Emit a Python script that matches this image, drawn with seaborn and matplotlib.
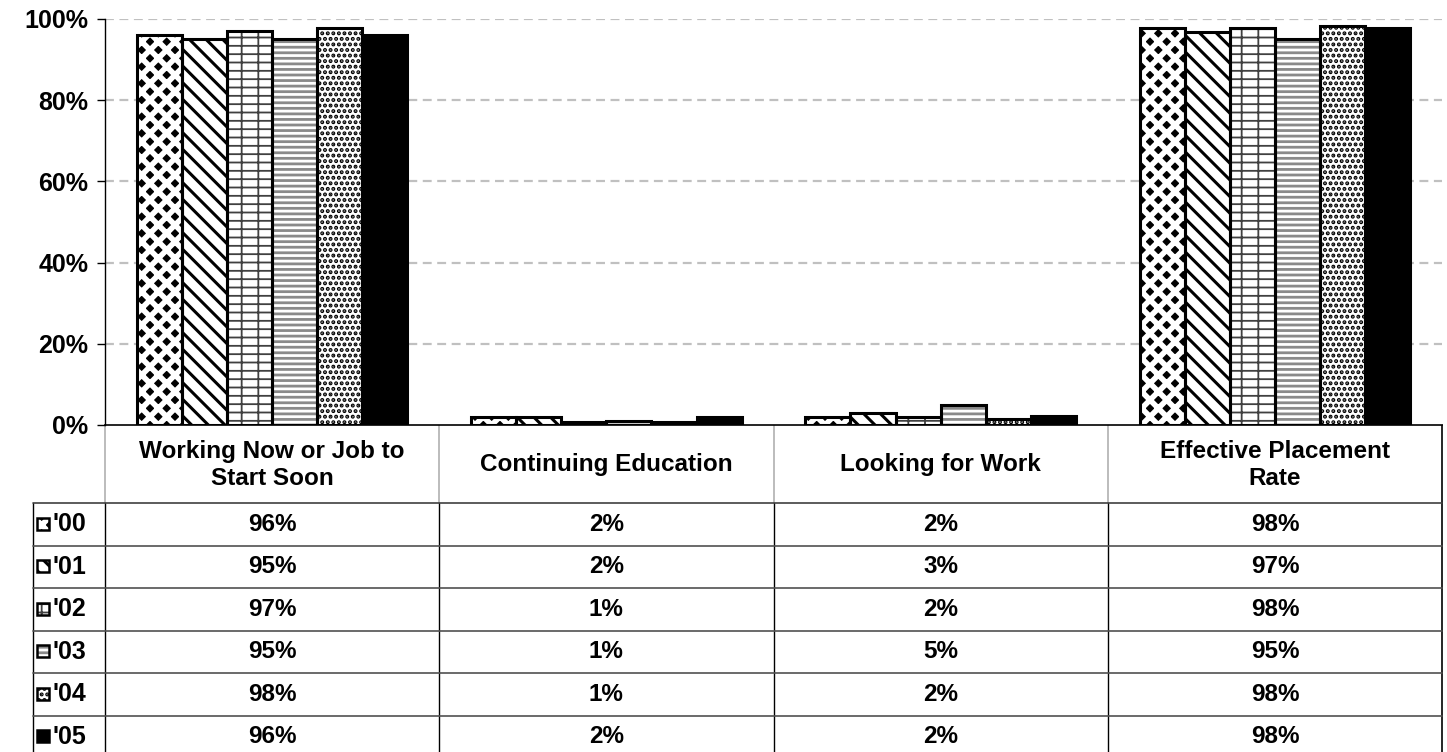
import matplotlib
matplotlib.use("Agg")
import matplotlib.pyplot as plt
from matplotlib.patches import Rectangle
import pandas as pd
import seaborn as sns

categories = ["Working Now or Job to\nStart Soon", "Continuing Education",
              "Looking for Work", "Effective Placement\nRate"]
years = ["'00", "'01", "'02", "'03", "'04", "'05"]
working = [96.0, 95.0, 97.0, 95.0, 97.8, 96.0]
continuing = [2.0, 2.0, 0.8, 1.0, 0.7, 2.0]
looking = [2.0, 3.0, 1.9, 5.0, 1.5, 2.3]
effective = [97.9, 96.9, 97.8, 95.0, 98.3, 97.8]

# face, hatch, hatch colour, hatch width for each year
styles = [
    ("black", "xx", "white", 4.0),
    ("white", "\\\\", "black", 2.2),
    ("white", "+-", "#404040", 1.3),
    ("white", "---", "#8a8a8a", 2.0),
    ("white", "...", "black", 2.0),
    ("black", "", "black", 1.0),
]

rows = []
for cat, vals in zip(categories, [working, continuing, looking, effective]):
    for yr, v in zip(years, vals):
        rows.append({"category": cat, "year": yr, "value": v})
df = pd.DataFrame(rows)

sns.set_style("white")
plt.rcParams["font.family"] = ["Liberation Sans", "DejaVu Sans"]
plt.rcParams["font.weight"] = "bold"
plt.rcParams["text.color"] = "black"
plt.rcParams["ytick.color"] = "black"
plt.rcParams["ytick.labelcolor"] = "black"

W, H = 1447, 752
left, right, base, top = 105, 1442, 425, 19

fig = plt.figure(figsize=(W / 100, H / 100), dpi=100)
ax = fig.add_axes([left / W, 1 - base / H, (right - left) / W, (base - top) / H])

sns.barplot(data=df, x="category", y="value", hue="year", order=categories,
            hue_order=years, palette=["white"] * 6, saturation=1, width=0.81,
            linewidth=0, legend=False, ax=ax)


def style_patch(p, st):
    face, hatch, hcol, hlw = st
    p.set_facecolor(face)
    p.set_hatch(hatch)
    p.set_edgecolor(hcol)
    p.set_linewidth(0)
    if hasattr(p, "set_hatch_linewidth"):
        p.set_hatch_linewidth(hlw)
    else:
        p._hatch_linewidth = hlw


for cont, st in zip(ax.containers, styles):
    for p in cont.patches:
        style_patch(p, st)
        x, y = p.get_xy()
        ax.add_patch(Rectangle((x, y), p.get_width(), p.get_height(), fill=False,
                               edgecolor="black", linewidth=2.2, zorder=3))

ax.set_xlim(-0.5, 3.5)
ax.set_ylim(0, 100)
ax.set_yticks([0, 20, 40, 60, 80, 100])
ax.set_yticklabels([f"{t}%" for t in [0, 20, 40, 60, 80, 100]], fontsize=18,
                   fontweight="bold", color="black")
ax.set_xticks([])
ax.set_xlabel("")
ax.set_ylabel("")
ax.tick_params(axis="y", direction="out", length=6, width=1, color="black", pad=6,
               left=True)
for y in [20, 40, 60, 80, 100]:
    ax.axhline(y, color="#c0c0c0", lw=1.6, ls=(0, (4, 2.5)), zorder=0)
ax.spines["top"].set_visible(False)
ax.spines["right"].set_visible(False)
ax.spines["left"].set_color("black")
ax.spines["bottom"].set_color("black")
ax.spines["left"].set_linewidth(1)
ax.spines["bottom"].set_linewidth(1.2)

# data table under the chart
tab = fig.add_axes([0, 0, 1, 1], zorder=-1)
tab.set_xlim(0, W)
tab.set_ylim(H, 0)
tab.axis("off")

col_w = (right - left) / len(categories)
head_bot = 503
row_h = 42.5
leg_left = 33
table_bot = head_bot + row_h * len(years)

for i in range(1, len(categories)):
    tab.plot([left + i * col_w] * 2, [base, head_bot], color="#b0b0b0", lw=1.2)
tab.plot([left, left], [base, head_bot], color="#b0b0b0", lw=1.2)
tab.plot([right, right], [base, table_bot], color="black", lw=1.2)
for i in range(0, len(categories)):
    tab.plot([left + i * col_w] * 2, [head_bot, table_bot], color="black", lw=1.0)
tab.plot([leg_left, leg_left], [head_bot, table_bot], color="black", lw=1.0)
tab.plot([leg_left, right], [head_bot, head_bot], color="#404040", lw=1.2)
for r in range(1, len(years) + 1):
    tab.plot([leg_left, right], [head_bot + r * row_h] * 2, color="#505050", lw=1.2)

for i, cat in enumerate(categories):
    tab.text(left + (i + 0.5) * col_w, (base + head_bot) / 2 + 1, cat, ha="center",
             va="center", fontsize=17.5, fontweight="bold", linespacing=1.2,
             color="black")

all_vals = [working, continuing, looking, effective]
for r, (yr, st) in enumerate(zip(years, styles)):
    yc = head_bot + (r + 0.5) * row_h
    icon = Rectangle((37, yc - 6.5), 12, 12)
    style_patch(icon, st)
    tab.add_patch(icon)
    tab.add_patch(Rectangle((37, yc - 6.5), 12, 12, fill=False, edgecolor="black",
                            linewidth=1.8))
    tab.text(52, yc, yr, ha="left", va="center", fontsize=18, fontweight="bold",
             color="black")
    for i, vals in enumerate(all_vals):
        tab.text(left + (i + 0.5) * col_w, yc, f"{round(vals[r])}%", ha="center",
                 va="center", fontsize=17.5, fontweight="bold", color="black")

fig.savefig("out.png", dpi=100)
